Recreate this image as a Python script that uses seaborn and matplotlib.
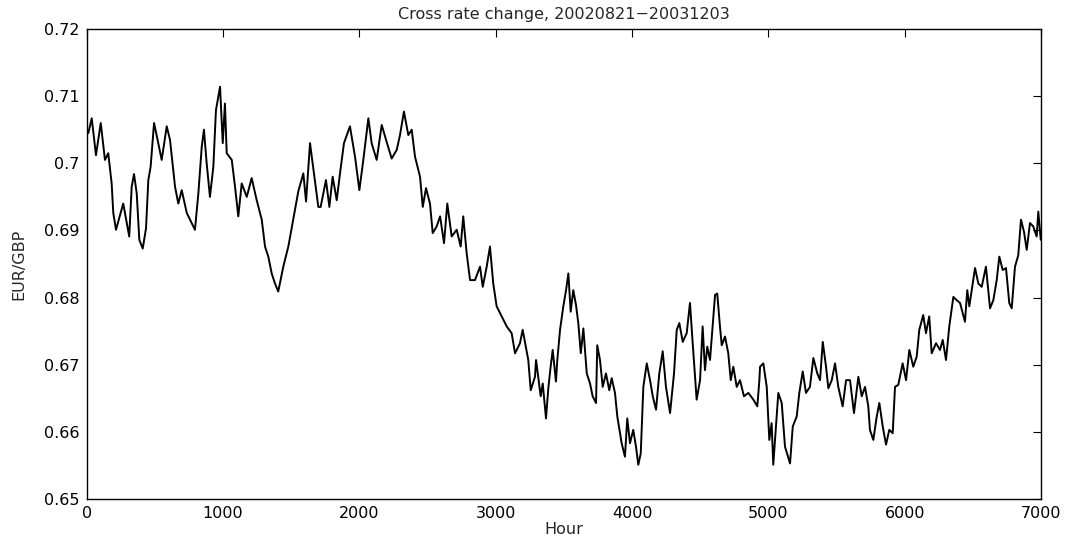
import matplotlib
matplotlib.use("Agg")
import matplotlib.pyplot as plt
from matplotlib.ticker import FuncFormatter
import seaborn as sns
import pandas as pd

hours = [12, 37, 68, 103, 134, 158, 183, 195, 215, 268, 312, 330, 347, 367, 386, 411, 435, 452, 469, 494,
         525, 550, 587, 611, 648, 672, 697, 734, 794, 819, 844, 860, 880, 904, 929, 948, 978, 998, 1014, 1027,
         1064, 1088, 1112, 1137, 1174, 1210, 1247, 1284, 1308, 1332, 1357, 1381, 1405, 1442, 1479, 1515, 1552, 1589, 1609, 1638,
         1662, 1699, 1716, 1755, 1780, 1804, 1834, 1858, 1887, 1931, 1968, 2000, 2029, 2066, 2090, 2127, 2164, 2200, 2237, 2274,
         2298, 2327, 2359, 2384, 2408, 2445, 2465, 2489, 2518, 2538, 2567, 2592, 2621, 2645, 2677, 2714, 2743, 2762, 2787, 2812,
         2848, 2885, 2905, 2934, 2958, 2982, 3007, 3044, 3081, 3117, 3142, 3178, 3198, 3239, 3257, 3288, 3296, 3330, 3345, 3369,
         3386, 3403, 3418, 3442, 3452, 3472, 3496, 3516, 3533, 3550, 3569, 3589, 3606, 3624, 3643, 3668, 3692, 3711, 3736, 3745,
         3765, 3785, 3809, 3833, 3851, 3875, 3892, 3924, 3948, 3965, 3985, 4009, 4029, 4046, 4064, 4083, 4108, 4132, 4152, 4176,
         4200, 4225, 4249, 4279, 4308, 4328, 4347, 4372, 4401, 4425, 4445, 4474, 4499, 4518, 4535, 4552, 4572, 4609, 4625, 4645,
         4658, 4682, 4706, 4724, 4743, 4768, 4792, 4821, 4853, 4890, 4919, 4934, 4939, 4963, 4988, 5007, 5024, 5036, 5056, 5073,
         5098, 5122, 5159, 5179, 5208, 5227, 5252, 5276, 5305, 5330, 5359, 5379, 5399, 5423, 5440, 5465, 5489, 5513, 5545, 5570,
         5599, 5628, 5660, 5685, 5709, 5733, 5745, 5770, 5795, 5814, 5839, 5863, 5887, 5912, 5929, 5953, 5985, 6010, 6034, 6063,
         6088, 6107, 6136, 6156, 6180, 6198, 6230, 6259, 6279, 6303, 6327, 6357, 6382, 6406, 6442, 6459, 6474, 6516, 6540, 6565,
         6596, 6626, 6650, 6675, 6694, 6719, 6743, 6767, 6785, 6809, 6833, 6853, 6875, 6895, 6919, 6943, 6968, 6980, 6998]

eur_gbp = [0.7045, 0.7067, 0.7012, 0.7060, 0.7005, 0.7015, 0.6970, 0.6926, 0.6901, 0.6940, 0.6891, 0.6965, 0.6984, 0.6955, 0.6886, 0.6873, 0.6903, 0.6975, 0.6995, 0.7060,
           0.7030, 0.7005, 0.7055, 0.7035, 0.6965, 0.6940, 0.6960, 0.6926, 0.6901, 0.6955, 0.7025, 0.7050, 0.7000, 0.6950, 0.6995, 0.7079, 0.7114, 0.7030, 0.7089, 0.7015,
           0.7005, 0.6965, 0.6921, 0.6970, 0.6950, 0.6978, 0.6945, 0.6916, 0.6876, 0.6861, 0.6836, 0.6821, 0.6809, 0.6846, 0.6876, 0.6916, 0.6958, 0.6985, 0.6943, 0.7030,
           0.6993, 0.6935, 0.6935, 0.6975, 0.6935, 0.6980, 0.6945, 0.6985, 0.7030, 0.7055, 0.7010, 0.6960, 0.7005, 0.7067, 0.7030, 0.7005, 0.7057, 0.7032, 0.7007, 0.7020,
           0.7042, 0.7077, 0.7042, 0.7050, 0.7010, 0.6980, 0.6935, 0.6963, 0.6940, 0.6896, 0.6906, 0.6921, 0.6881, 0.6940, 0.6891, 0.6901, 0.6876, 0.6921, 0.6866, 0.6826,
           0.6826, 0.6846, 0.6816, 0.6846, 0.6876, 0.6821, 0.6787, 0.6772, 0.6757, 0.6747, 0.6717, 0.6732, 0.6752, 0.6707, 0.6662, 0.6682, 0.6707, 0.6653, 0.6672, 0.6620,
           0.6665, 0.6697, 0.6722, 0.6675, 0.6707, 0.6752, 0.6787, 0.6811, 0.6836, 0.6779, 0.6811, 0.6789, 0.6762, 0.6717, 0.6754, 0.6687, 0.6672, 0.6653, 0.6643, 0.6729,
           0.6707, 0.6667, 0.6687, 0.6662, 0.6680, 0.6658, 0.6623, 0.6583, 0.6563, 0.6620, 0.6583, 0.6603, 0.6578, 0.6551, 0.6568, 0.6667, 0.6702, 0.6677, 0.6653, 0.6633,
           0.6687, 0.6720, 0.6667, 0.6628, 0.6687, 0.6752, 0.6762, 0.6734, 0.6747, 0.6792, 0.6732, 0.6648, 0.6677, 0.6757, 0.6692, 0.6727, 0.6707, 0.6804, 0.6806, 0.6757,
           0.6729, 0.6742, 0.6717, 0.6677, 0.6697, 0.6667, 0.6677, 0.6653, 0.6658, 0.6648, 0.6638, 0.6677, 0.6697, 0.6702, 0.6667, 0.6588, 0.6613, 0.6551, 0.6608, 0.6658,
           0.6643, 0.6578, 0.6553, 0.6608, 0.6623, 0.6658, 0.6690, 0.6658, 0.6667, 0.6710, 0.6687, 0.6677, 0.6734, 0.6697, 0.6665, 0.6677, 0.6702, 0.6667, 0.6638, 0.6677,
           0.6677, 0.6628, 0.6682, 0.6653, 0.6667, 0.6638, 0.6603, 0.6588, 0.6623, 0.6643, 0.6608, 0.6581, 0.6603, 0.6598, 0.6667, 0.6670, 0.6702, 0.6677, 0.6722, 0.6697,
           0.6712, 0.6752, 0.6774, 0.6747, 0.6772, 0.6717, 0.6732, 0.6722, 0.6737, 0.6707, 0.6757, 0.6801, 0.6796, 0.6792, 0.6764, 0.6811, 0.6787, 0.6844, 0.6821, 0.6816,
           0.6846, 0.6784, 0.6796, 0.6826, 0.6861, 0.6841, 0.6844, 0.6792, 0.6784, 0.6846, 0.6863, 0.6916, 0.6898, 0.6871, 0.6911, 0.6906, 0.6891, 0.6928, 0.6886]

title_text = "Cross rate change, 20020821\u221220031203"
x_label = "Hour"
y_label = "EUR/GBP"
x_ticks = [0, 1000, 2000, 3000, 4000, 5000, 6000, 7000]
y_ticks = [0.65, 0.66, 0.67, 0.68, 0.69, 0.70, 0.71, 0.72]

sns.set_style("white")
plt.rcParams['font.family'] = ['DejaVu Sans']

df = pd.DataFrame({"Hour": hours, "Rate": eur_gbp})

fig = plt.figure(figsize=(10.73, 5.39), dpi=100)
ax = fig.add_axes([0.0808, 0.0742, 0.8894, 0.8720])
sns.lineplot(data=df, x="Hour", y="Rate", ax=ax, color="black", linewidth=1.4, estimator=None, sort=False)

ax.set_xlim(0, 7000)
ax.set_ylim(0.65, 0.72)
ax.set_xticks(x_ticks)
ax.set_yticks(y_ticks)
ax.yaxis.set_major_formatter(FuncFormatter(lambda v, p: ("%g" % round(v, 4))))
ax.tick_params(direction="in", length=6, width=0.8, top=True, right=True,
               labelsize=11.5, colors="black", pad=5)
for s in ax.spines.values():
    s.set_visible(True)
    s.set_color("black")
    s.set_linewidth(1.0)
ax.grid(False)
ax.set_title(title_text, fontsize=11.5, pad=7)
ax.set_xlabel(x_label, fontsize=11.5, labelpad=1)
ax.set_ylabel(y_label, fontsize=11.5, labelpad=13)

fig.savefig("out.png", dpi=100)
